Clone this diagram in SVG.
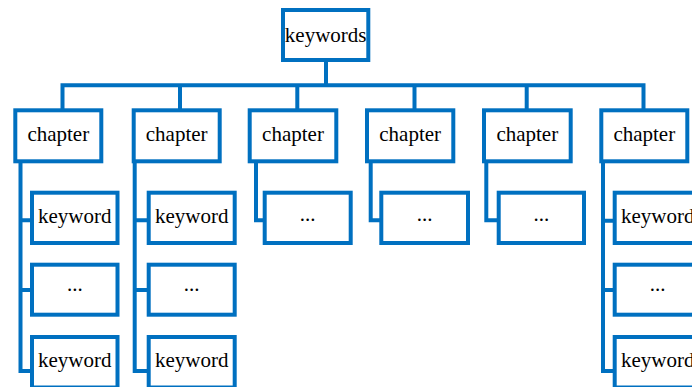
<svg xmlns="http://www.w3.org/2000/svg" width="692" height="387" viewBox="0 0 692 387">
<style>
.box{fill:#ffffff;stroke:#0070C0;stroke-width:4}
.ln{fill:none;stroke:#0070C0;stroke-width:4;stroke-linejoin:miter;stroke-linecap:butt}
text{font-family:"Liberation Serif","Times New Roman",serif;font-size:21px;fill:#000000;text-anchor:middle}
</style>
<rect width="692" height="387" fill="#ffffff"/>
<g id="connectors">
<path class="ln" d="M326,60 V85.3"/>
<path class="ln" d="M62.5,110.3 V85.3 H643.5 V110.3"/>
<path class="ln" d="M180,85.3 V110.3 M297.3,85.3 V110.3 M414.5,85.3 V110.3 M526.7,85.3 V110.3"/>
<path class="ln" d="M20.5,161 V371 H32 M20.5,220.3 H32 M20.5,290 H32"/>
<path class="ln" d="M134.7,161 V371 H148.7 M134.7,220.3 H148.7 M134.7,290 H148.7"/>
<path class="ln" d="M256,161 V220.3 H264.7"/>
<path class="ln" d="M370.7,161 V220.3 H381.3"/>
<path class="ln" d="M486.3,161 V220.3 H498.7"/>
<path class="ln" d="M603,161 V371 H614.7 M603,220.8 H614.7 M603,290 H614.7"/>
</g>
<g id="root"><rect class="box" x="283" y="10" width="85.3" height="50"/><text x="325.7" y="41.5">keywords</text></g>
<g id="ch1"><rect class="box" x="15.3" y="110.3" width="86" height="51"/><text x="58.3" y="141">chapter</text></g>
<g id="ch2"><rect class="box" x="133.7" y="110.3" width="86" height="51"/><text x="176.7" y="141">chapter</text></g>
<g id="ch3"><rect class="box" x="249.7" y="110.3" width="86.6" height="51"/><text x="293" y="141">chapter</text></g>
<g id="ch4"><rect class="box" x="367" y="110.3" width="86.3" height="51"/><text x="410.2" y="141">chapter</text></g>
<g id="ch5"><rect class="box" x="484" y="110.3" width="86.7" height="51"/><text x="527.3" y="141">chapter</text></g>
<g id="ch6"><rect class="box" x="601.3" y="110.3" width="86" height="51"/><text x="644.3" y="141">chapter</text></g>
<g id="k1a"><rect class="box" x="32" y="192.7" width="85.5" height="50.3"/><text x="74.8" y="222.5">keyword</text></g>
<g id="k1b"><rect class="box" x="32" y="264.7" width="85.5" height="50"/><text x="74.8" y="291">...</text></g>
<g id="k1c"><rect class="box" x="32" y="337" width="85.5" height="50.5"/><text x="74.8" y="366.5">keyword</text></g>
<g id="k2a"><rect class="box" x="148.7" y="192.7" width="86" height="50.3"/><text x="191.7" y="222.5">keyword</text></g>
<g id="k2b"><rect class="box" x="148.7" y="264.7" width="86" height="50"/><text x="191.7" y="291">...</text></g>
<g id="k2c"><rect class="box" x="148.7" y="337" width="86" height="50.5"/><text x="191.7" y="366.5">keyword</text></g>
<g id="k3a"><rect class="box" x="264.7" y="192.7" width="86" height="50.3"/><text x="307.7" y="221">...</text></g>
<g id="k4a"><rect class="box" x="381.3" y="192.7" width="86.7" height="50.3"/><text x="424.6" y="221">...</text></g>
<g id="k5a"><rect class="box" x="498.7" y="192.7" width="85.3" height="50.3"/><text x="541.3" y="221">...</text></g>
<g id="k6a"><rect class="box" x="614.7" y="192.7" width="86" height="50.3"/><text x="657.7" y="222.5">keyword</text></g>
<g id="k6b"><rect class="box" x="614.7" y="264.7" width="86" height="50"/><text x="657.7" y="291">...</text></g>
<g id="k6c"><rect class="box" x="614.7" y="337" width="86" height="50.5"/><text x="657.7" y="366.5">keyword</text></g>
</svg>
